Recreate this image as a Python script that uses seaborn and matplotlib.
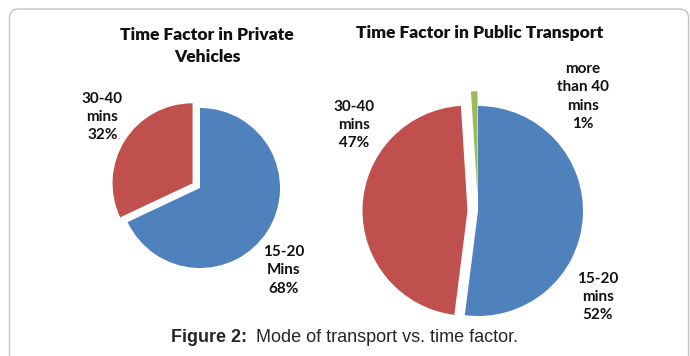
import matplotlib
matplotlib.use("Agg")
import matplotlib.pyplot as plt
import seaborn as sns
from matplotlib.patches import FancyBboxPatch
from matplotlib.transforms import IdentityTransform

# Data
private_labels = ["15-20\nMins\n68%", "30-40\nmins\n32%"]
private_values = [68, 32]
public_labels = ["15-20\nmins\n52%", "30-40\nmins\n47%", "more\nthan 40\nmins\n1%"]
public_values = [52, 47, 1]
private_title = "Time Factor in Private\nVehicles"
public_title = "Time Factor in Public Transport"
caption_bold = "Figure 2:"
caption_text = "Mode of transport vs. time factor."

sns.set_style("white")
plt.rcParams['font.family'] = ['Lato', 'DejaVu Sans']
excel = sns.color_palette(["#4F81BD", "#C0504D", "#9BBB59"])

W, H = 690, 356
fig = plt.figure(figsize=(W / 100, H / 100), dpi=100)

# rounded frame around the chart
frame = FancyBboxPatch((9.5, -30), 679, 356 - 9 + 30,
                       boxstyle="round,pad=0,rounding_size=9",
                       transform=IdentityTransform(), fill=False,
                       edgecolor="#c4c4c4", linewidth=1.0)
fig.patches.append(frame)


def pie_axes(cx, cy, r):
    # axes where one data unit = r pixels, centred at (cx, cy) pixels
    span = 2.5 * r
    ax = fig.add_axes([(cx - span / 2) / W, 1 - (cy + span / 2) / H, span / W, span / H])
    ax.set_xlim(-1.25, 1.25)
    ax.set_ylim(-1.25, 1.25)
    ax.set_aspect("equal")
    ax.axis("off")
    return ax


lab_kw = dict(ha="center", va="center", fontsize=11, fontweight="bold",
              linespacing=1.38, color="#111111")

# Private vehicles
ax1 = pie_axes(200, 188, 80)
ax1.pie(private_values, colors=excel[:2], startangle=90, counterclock=False,
        explode=[0, 0.11], wedgeprops=dict(linewidth=0))
ax1.text(-1.22, 0.89, private_labels[1], **lab_kw)
ax1.text(1.05, -1.03, private_labels[0], **lab_kw)

# Public transport
ax2 = pie_axes(478, 211, 105)
ax2.pie(public_values, colors=excel[:3], startangle=90, counterclock=False,
        explode=[0, 0.1, 0.14], wedgeprops=dict(linewidth=0))
ax2.text(-1.18, 0.82, public_labels[1], **lab_kw)
ax2.text(1.0, 1.09, public_labels[2], **lab_kw)
ax2.text(1.14, -0.82, public_labels[0], **lab_kw)

fig.text(207 / W, 1 - 46 / H, private_title, ha="center", va="center",
         fontsize=12.5, fontweight="heavy", linespacing=1.4, color="#111111")
fig.text(480 / W, 1 - 33 / H, public_title, ha="center", va="center",
         fontsize=12.5, fontweight="heavy", color="#111111")

# caption: bold prefix + regular text
cap_font = ['Liberation Sans', 'DejaVu Sans']
t1 = fig.text(171 / W, 1 - 338 / H, caption_bold, ha="left", va="center",
              fontsize=13, fontweight="bold", family=cap_font)
fig.canvas.draw()
bb = t1.get_window_extent()
fig.text((bb.x1 + 9) / W, 1 - 338 / H, caption_text, ha="left", va="center",
         fontsize=13, family=cap_font)

fig.savefig("out.png", dpi=100)
